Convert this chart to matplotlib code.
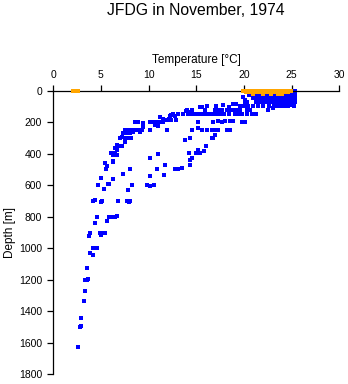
import matplotlib
matplotlib.use("Agg")
import matplotlib.pyplot as plt

plt.rcParams['font.family'] = ['Liberation Sans', 'DejaVu Sans']

# ---------------------------
# Data (temperature in degC, depth in m)
# ---------------------------
# surface block, rows at standard depths
surf_depth = [0] * 12 + [10] * 13 + [20] * 13 + [30] * 13 + [50] * 12 + [75] * 11 + [100] * 11
surf_temp = [
    20.9, 21.3, 21.7, 22.1, 22.5, 22.9, 23.3, 23.7, 24.1, 24.5, 24.9, 25.4,
    20.4, 20.8, 21.2, 21.6, 22.0, 22.4, 22.8, 23.2, 23.6, 24.0, 24.4, 24.8, 25.4,
    20.5, 20.9, 21.3, 21.7, 22.1, 22.5, 22.9, 23.3, 23.7, 24.1, 24.5, 24.9, 25.4,
    20.7, 21.1, 21.5, 21.9, 22.3, 22.7, 23.1, 23.5, 23.9, 24.3, 24.7, 25.1, 25.4,
    21.0, 21.4, 21.8, 22.2, 22.6, 23.0, 23.4, 23.8, 24.2, 24.6, 25.4, 25.0,
    21.3, 21.7, 22.1, 22.5, 22.9, 23.3, 23.7, 24.1, 24.5, 24.9, 25.4,
    20.0, 20.4, 20.9, 21.5, 22.0, 22.6, 23.1, 23.6, 24.2, 24.6, 25.2,
]

# scattered casts below the surface layer
cast_temp = [
    19.6, 19.9, 22.5, 23.0, 23.8, 24.3, 24.8, 20.5, 20.1, 19.9,
    15.6, 16.1, 17.1, 17.8, 18.4, 18.9, 19.2, 19.8, 20.1, 20.3, 15.4,
    14.0, 14.5, 15.9, 17.0, 17.3, 17.7, 18.2, 18.5, 18.9, 19.2, 19.6, 20.3, 20.6, 13.9, 14.2,
    13.6, 14.1, 14.4, 14.8, 15.1, 15.5, 15.8, 16.2, 16.5, 16.9, 17.2, 17.6, 17.9, 18.4,
    19.1, 19.4, 19.8, 20.3, 20.8, 21.3, 12.6, 12.4, 12.2, 12.8, 13.1,
    11.2, 11.5, 11.9, 12.1, 12.4, 12.9,
    8.6, 8.9, 9.4, 10.1, 10.5, 10.9, 11.2, 11.5, 15.2, 16.8, 17.3, 17.7, 18.0, 18.5, 18.9, 19.8, 20.1,
    10.7, 11.0, 9.4, 15.2,
    7.5, 7.9, 8.2, 8.6, 8.9, 9.3, 10.1, 11.9, 14.5, 15.6, 16.1, 16.6, 17.0, 17.3, 18.2, 18.5,
    7.3, 7.7, 8.0, 8.4, 9.1, 17.0,
    7.0, 7.2, 7.5, 7.9, 8.2, 14.3, 16.6, 16.8, 13.8, 7.5,
    6.65, 6.5, 6.8, 6.65, 7.2, 16.0, 15.2, 15.8,
    6.1, 6.5, 6.3, 6.65, 11.0, 14.2, 15.0, 15.4,
    10.1, 14.5, 14.3, 14.3, 6.3, 5.4, 6.3, 5.6, 5.5, 11.7, 14.3,
    8.1, 10.85, 12.8, 13.1, 13.5,
    7.3, 10.1, 11.65, 5.0, 6.3,
    4.7, 5.7, 5.8, 8.3, 9.8, 10.1, 10.6, 5.35, 7.8,
    4.2, 4.4, 5.1, 5.0, 6.8, 7.7, 7.9, 8.1,
    4.55, 5.8, 6.1, 6.5, 6.65, 4.4, 5.6,
    3.85, 3.7, 4.9, 5.1, 5.0, 5.45,
    4.15, 4.4, 4.6, 3.85, 4.2, 3.55,
    3.35, 3.5, 3.65, 3.35, 3.25, 2.95, 2.85, 2.95, 2.6,
]
cast_depth = [
    95, 100, 121, 110, 95, 95, 89, 25, 57, 38,
    104, 100, 97, 93, 104, 82, 82, 95, 88, 75, 104,
    121, 121, 121, 121, 121, 121, 121, 121, 121, 121, 121, 121, 121, 131, 138,
    148, 148, 148, 148, 148, 148, 148, 148, 148, 148, 148, 148, 148, 148,
    148, 148, 148, 148, 148, 148, 146, 153, 163, 159, 150,
    167, 180, 189, 180, 184, 189,
    199, 199, 205, 199, 199, 199, 199, 199, 199, 199, 195, 199, 195, 195, 191, 199, 199,
    220, 227, 231, 237,
    248, 248, 248, 248, 250, 248, 248, 248, 248, 248, 248, 248, 248, 248, 248, 248,
    269, 269, 272, 265, 265, 280,
    300, 297, 300, 300, 300, 300, 300, 300, 311, 326,
    343, 364, 354, 375, 354, 349, 375, 386,
    396, 396, 411, 407, 400, 396, 396, 396,
    428, 428, 438, 443, 449, 459, 453, 476, 496, 470, 470,
    497, 497, 497, 497, 491,
    529, 540, 533, 555, 563,
    597, 595, 593, 597, 597, 608, 597, 625, 629,
    703, 697, 700, 705, 699, 703, 707, 701,
    802, 802, 802, 802, 799, 840, 826,
    904, 921, 904, 904, 917, 904,
    1000, 1000, 998, 1030, 1044, 1127,
    1200, 1200, 1195, 1273, 1336, 1444, 1500, 1494, 1628,
]

# second (orange) series, surface readings only
orange_temp = [
    2.1, 2.4, 2.6,
    19.9, 20.3, 20.7, 21.1, 21.5, 21.9, 22.3, 22.7, 23.1, 23.5, 23.9, 24.3, 24.7, 24.9,
    20.2, 20.6, 21.0, 21.4, 21.8, 22.2, 22.6, 23.0, 23.4, 23.8, 24.2, 24.6,
    21.0, 22.0, 22.8, 23.6, 24.0,
]
orange_depth = [0] * 3 + [0] * 14 + [10] * 12 + [20] * 5

# ---------------------------
# Plot
# ---------------------------
fig = plt.figure(figsize=(3.48, 3.84), dpi=100)
ax = fig.add_axes([0.153, 0.026, 0.822, 0.738])

ax.scatter(surf_temp + cast_temp, surf_depth + cast_depth, marker='s', s=5,
           color='#0000FF', linewidths=0, clip_on=False, zorder=2)
ax.scatter(orange_temp, orange_depth, marker='s', s=5,
           color='#FFA500', linewidths=0, clip_on=False, zorder=3)

ax.set_xlim(0, 30)
ax.set_ylim(1800, 0)
ax.set_xticks(range(0, 31, 5))
ax.set_yticks(range(0, 1801, 200))

ax.xaxis.tick_top()
ax.xaxis.set_label_position('top')
for side in ['right', 'bottom']:
    ax.spines[side].set_visible(False)
for side in ['top', 'left']:
    ax.spines[side].set_linewidth(0.9)

ax.tick_params(axis='both', direction='out', length=4, width=0.9, labelsize=7.5)
ax.tick_params(axis='x', pad=4)
ax.tick_params(axis='y', pad=4)

ax.set_xlabel("Temperature [°C]", fontsize=8.5, labelpad=5)
ax.set_ylabel("Depth [m]", fontsize=8.5, labelpad=2)
fig.text(0.563, 0.972, "JFDG in November, 1974", ha='center', va='center', fontsize=11.3)

fig.savefig("out.png", dpi=100)
